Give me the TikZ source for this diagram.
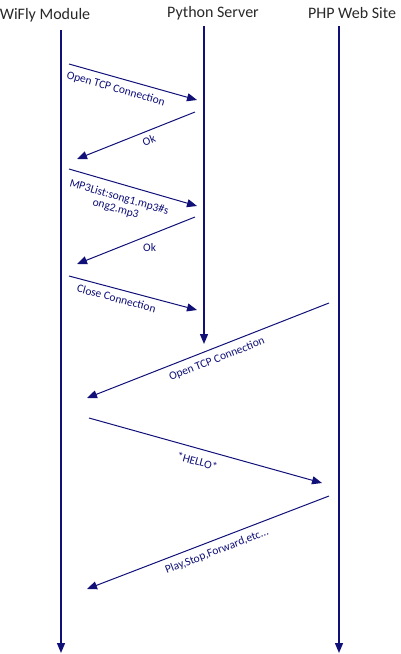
\documentclass[tikz,border=0pt]{standalone}
\usepackage{fontspec}
\setmainfont{Carlito}
\usepackage{xcolor}
\usetikzlibrary{arrows.meta, positioning}

\definecolor{msgblue}{RGB}{16,16,120}
\definecolor{headgray}{RGB}{40,40,40}

\begin{document}
\begin{tikzpicture}[
  x=1pt, y=-1pt,
  headbox/.style={inner sep=0pt, text=headgray, font=\fontsize{16}{19}\selectfont},
  lifeline/.style={draw=msgblue, line width=1.4pt, -{Triangle[length=10pt, width=8pt]}},
  msg/.style={draw=msgblue, line width=1pt, -{Triangle[length=10pt, width=8pt]}},
  lbl/.style={text=msgblue, font=\fontsize{11.5}{12}\selectfont, inner sep=1pt, align=center},
]
\useasboundingbox (0,0) rectangle (401,654);

%% ── Participants ──────────────────────────────────────────────────────────
\node[headbox] (wifly)  at (45,  15) {WiFly Module};
\node[headbox] (python) at (213, 13) {Python Server};
\node[headbox] (php)    at (352, 13) {PHP Web Site};

%% ── Lifeline ends ─────────────────────────────────────────────────────────
\coordinate (wiflyTop)  at (61,  30);
\coordinate (wiflyBot)  at (61,  653);
\coordinate (pythonTop) at (204, 26);
\coordinate (pythonBot) at (204, 344);
\coordinate (phpTop)    at (339, 26);
\coordinate (phpBot)    at (339, 653);

\draw[lifeline] (wiflyTop)  -- (wiflyBot);
\draw[lifeline] (pythonTop) -- (pythonBot);
\draw[lifeline] (phpTop)    -- (phpBot);

%% ── Message end points ────────────────────────────────────────────────────
\coordinate (m1s) at (69,  64);  \coordinate (m1e) at (197, 100);
\coordinate (m2s) at (195, 112); \coordinate (m2e) at (77,  159);
\coordinate (m3s) at (69,  169); \coordinate (m3e) at (197, 206);
\coordinate (m4s) at (195, 217); \coordinate (m4e) at (77,  264);
\coordinate (m5s) at (69,  276); \coordinate (m5e) at (197, 310);
\coordinate (m6s) at (329, 303); \coordinate (m6e) at (87,  398);
\coordinate (m7s) at (89,  418); \coordinate (m7e) at (322, 483);
\coordinate (m8s) at (329, 496); \coordinate (m8e) at (87,  589);

%% ── WiFly <-> Python ──────────────────────────────────────────────────────
\draw[msg] (m1s) -- node[lbl, pos=0.39, sloped, below=5pt] {Open TCP Connection} (m1e);
\draw[msg] (m2s) -- node[lbl, pos=0.42, sloped, below=4pt] {Ok} (m2e);
\draw[msg] (m3s) -- node[lbl, pos=0.42, sloped, below=7pt] {MP3List:song1.mp3\#s\\ong2.mp3} (m3e);
\draw[msg] (m4s) -- node[lbl, pos=0.385, below=7pt] {Ok} (m4e);
\draw[msg] (m5s) -- node[lbl, pos=0.39, sloped, below=4pt] {Close Connection} (m5e);

%% ── PHP <-> WiFly ─────────────────────────────────────────────────────────
\draw[msg] (m6s) -- node[lbl, pos=0.48, sloped, below=5pt] {Open TCP Connection} (m6e);
\draw[msg] (m7s) -- node[lbl, pos=0.48, sloped, below=7pt] {*HELLO*} (m7e);
\draw[msg] (m8s) -- node[lbl, pos=0.48, sloped, below=5pt] {Play,Stop,Forward,etc...} (m8e);

\end{tikzpicture}
\end{document}
